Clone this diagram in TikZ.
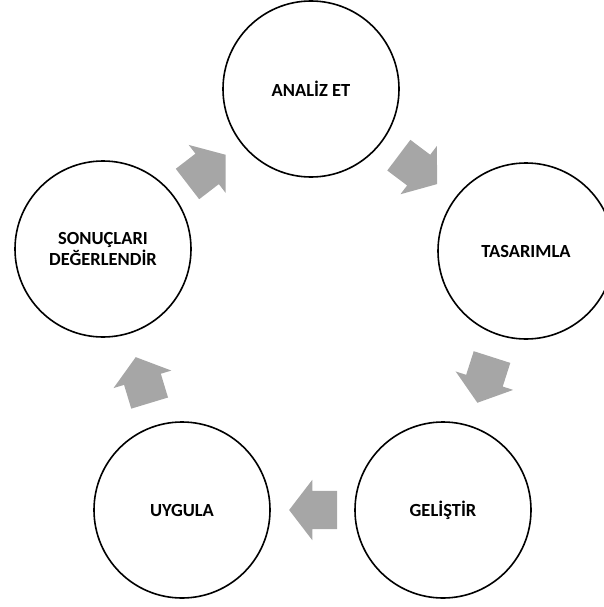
\documentclass[tikz,border=0pt]{standalone}
\usepackage{fontspec}
\setmainfont{Carlito}
\usepackage{tikz}
\usetikzlibrary{calc,shapes.arrows}

\definecolor{arrowgray}{RGB}{166,166,166}

\begin{document}
\begin{tikzpicture}[x=1pt, y=-1pt,
	stage/.style={circle, draw=black, line width=1.6pt, fill=white,
		minimum size=176pt, inner sep=0pt, align=center,
		font=\fontsize{18.5}{21.6}\selectfont\bfseries},
	cyclearrow/.style={single arrow, fill=arrowgray, draw=none,
		minimum height=48pt, inner xsep=0pt, inner ysep=19pt,
		single arrow head extend=11pt, single arrow tip angle=105}]

% frame %{{{2

	\useasboundingbox (0,0) rectangle (604,607);

% stages %{{{2

	\node[stage] (analiz)   at (311,89)  {ANALİZ ET};
	\node[stage] (tasarim)  at (526,251) {TASARIMLA};
	\node[stage] (gelistir) at (443,510) {GELİŞTİR};
	\node[stage] (uygula)   at (182,510) {UYGULA};
	\node[stage] (sonuc)    at (103,249) {SONUÇLARI\\DEĞERLENDİR};

% arrows between stages %{{{2

	% each arrow sits a little behind the midpoint of its two stages
	\foreach \from/\to in {sonuc/analiz, analiz/tasarim, tasarim/gelistir,
		gelistir/uygula, uygula/sonuc}
	{
		\path let \p1 = ($(\to)-(\from)$), \n1 = {atan2(\y1,\x1)} in
			node[cyclearrow, rotate=\n1] (arr-\from)
			at ($(\from)!0.5!(\to)!8pt!(\from)$) {};
	}

% closing %{{{2

\end{tikzpicture}
\end{document}
